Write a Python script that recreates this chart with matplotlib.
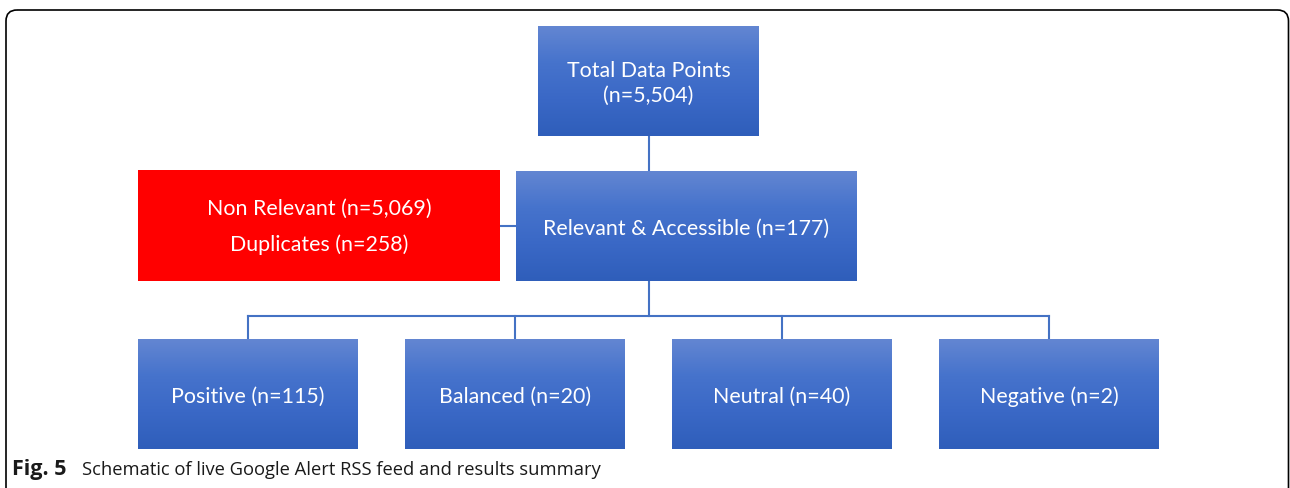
import numpy as np
import matplotlib
matplotlib.use('Agg')
import matplotlib.pyplot as plt
from matplotlib.patches import FancyBboxPatch, Rectangle
from matplotlib.colors import LinearSegmentedColormap

# Flow counts
total_label = 'Total Data Points'
total_n = 5504
relevant_label = 'Relevant & Accessible'
relevant_n = 177
excluded_labels = ['Non Relevant', 'Duplicates']
excluded_n = [5069, 258]
sentiment_labels = ['Positive', 'Balanced', 'Neutral', 'Negative']
sentiment_n = [115, 20, 40, 2]

caption_bold = 'Fig. 5'
caption_text = 'Schematic of live Google Alert RSS feed and results summary'

W, H = 1290, 488
BOX_FONT = 'Lato'
BOX_SIZE = 15.4
LINE_COLOR = '#4472c4'

blue_grad = LinearSegmentedColormap.from_list(
    'office_blue', ['#6386d2', '#4673cc', '#3a68c6', '#2f5eba'])


def gradient_box(ax, x, y, w, h):
    grad = np.linspace(0, 1, 256).reshape(-1, 1)
    ax.imshow(grad, cmap=blue_grad, aspect='auto',
              extent=(x, x + w, y + h, y), zorder=2, interpolation='bilinear')


def box_text(ax, x, y, w, h, text):
    ax.text(x + w / 2, y + h / 2 + 2.5, text, ha='center', va='center',
            color='white', fontsize=BOX_SIZE, family=BOX_FONT,
            linespacing=1.35, zorder=3)


fig = plt.figure(figsize=(W / 100, H / 100), dpi=100)
ax = fig.add_axes([0, 0, 1, 1])
ax.set_xlim(0, W)
ax.set_ylim(H, 0)
ax.axis('off')

# outer frame, open at the bottom edge
frame = FancyBboxPatch((6, 10), W - 1.5 - 6, 520,
                       boxstyle='round,pad=0,rounding_size=11',
                       fill=False, edgecolor='black', linewidth=1.2, zorder=1)
ax.add_patch(frame)

# top box
tx, ty, tw, th = 538, 26, 221, 110
gradient_box(ax, tx, ty, tw, th)
box_text(ax, tx, ty, tw, th, f'{total_label}\n(n={total_n:,})')

# relevant box
rx, ry, rw, rh = 516, 171, 341, 110
gradient_box(ax, rx, ry, rw, rh)
box_text(ax, rx, ry, rw, rh, f'{relevant_label} (n={relevant_n})')

# excluded box
ex, ey, ew, eh = 138, 170, 362, 111
ax.add_patch(Rectangle((ex, ey), ew, eh, facecolor='#ff0000',
                       edgecolor='none', zorder=2))
excl = '\n'.join(f'{lab} (n={n:,})' for lab, n in zip(excluded_labels, excluded_n))
ax.text(ex + ew / 2, ey + eh / 2 + 1.5, excl, ha='center', va='center',
        color='white', fontsize=BOX_SIZE, family=BOX_FONT,
        linespacing=1.9, zorder=3)

# connectors
cx = tx + tw / 2
ax.plot([cx, cx], [ty + th, ry], color=LINE_COLOR, lw=1.5, zorder=1)
ax.plot([ex + ew, rx], [226, 226], color=LINE_COLOR, lw=1.5, zorder=1)
ax.plot([cx, cx], [ry + rh, 316], color=LINE_COLOR, lw=1.5, zorder=1)

# sentiment boxes
bw, bh, by = 220, 110, 339
bxs = [138 + i * 267 for i in range(len(sentiment_labels))]
centers = [b + bw / 2 for b in bxs]
ax.plot([centers[0], centers[-1]], [316, 316], color=LINE_COLOR, lw=1.5, zorder=1)
for bx, c, lab, n in zip(bxs, centers, sentiment_labels, sentiment_n):
    ax.plot([c, c], [316, by], color=LINE_COLOR, lw=1.5, zorder=1)
    gradient_box(ax, bx, by, bw, bh)
    box_text(ax, bx, by, bw, bh, f'{lab} (n={n})')

# caption
ax.text(12, 470, caption_bold, ha='left', va='center', fontsize=15.5,
        family='Open Sans', fontweight='bold', color='#1a1a1a')
ax.text(82, 470, caption_text, ha='left', va='center', fontsize=13.2,
        family='Open Sans', color='#1a1a1a')

fig.savefig('out.png', dpi=100)
